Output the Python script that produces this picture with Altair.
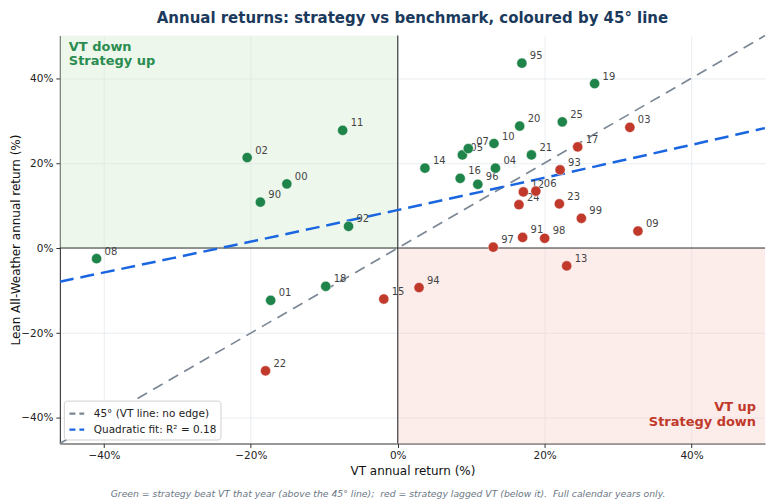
import altair as alt
import pandas as pd

years = ["90", "91", "92", "93", "94", "95", "96", "97", "98", "99",
         "00", "01", "02", "03", "04", "05", "06", "07", "08", "09",
         "10", "11", "12", "13", "14", "15", "16", "17", "18", "19",
         "20", "21", "22", "23", "24", "25"]
vt_ret = [-18.7, 17.0, -6.7, 22.1, 2.9, 16.9, 10.9, 13.0, 20.0, 25.0,
          -15.1, -17.3, -20.5, 31.6, 13.3, 8.8, 18.8, 9.6, -41.0, 32.7,
          13.1, -7.5, 17.1, 23.0, 3.7, -1.9, 8.5, 24.5, -9.8, 26.8,
          16.6, 18.2, -18.0, 22.0, 16.5, 22.4]
strat_ret = [10.8, 2.5, 5.1, 18.4, -9.3, 43.5, 15.0, 0.2, 2.3, 7.0,
             15.1, -12.3, 21.3, 28.4, 18.8, 21.9, 13.4, 23.4, -2.5, 4.0,
             24.6, 27.7, 13.2, -4.2, 18.8, -12.0, 16.4, 23.8, -9.0, 38.7,
             28.7, 21.9, -28.9, 10.4, 10.2, 29.7]

axis_lo, axis_hi = -46, 50
tick_vals = [-40, -20, 0, 20, 40]

line_labels = ["45° (VT line: no edge)", "Quadratic fit: R² = 0.18"]

GREEN = "#1e8449"
RED = "#c0392b"
FONT = "DejaVu Sans"

df = pd.DataFrame({"year": years, "vt": vt_ret, "strat": strat_ret})
df["col"] = [GREEN if s > v else RED for v, s in zip(vt_ret, strat_ret)]

quad = pd.DataFrame({
    "x1": [axis_lo, 0], "x2": [0, axis_hi],
    "y1": [0, axis_lo], "y2": [axis_hi, 0],
    "fill": ["#d4ecd0", "#f8cfcb"],
})
diag = pd.DataFrame({"vt": [axis_lo, axis_hi], "strat": [axis_lo, axis_hi],
                     "series": [line_labels[0]] * 2})

W, H = 707, 409
xs = alt.Scale(domain=[axis_lo, axis_hi], nice=False, zero=False)
ys = alt.Scale(domain=[axis_lo, axis_hi], nice=False, zero=False)
lab = "format(datum.value, 'd') + '%'"

xaxis = alt.Axis(values=tick_vals, labelExpr=lab, title="VT annual return (%)", grid=True)
yaxis = alt.Axis(values=tick_vals, labelExpr=lab, title="Lean All-Weather annual return (%)",
                 grid=True, titleX=-44, titleBaseline="middle")

base_x = alt.X("vt:Q", scale=xs, axis=xaxis)
base_y = alt.Y("strat:Q", scale=ys, axis=yaxis)

quads = alt.Chart(quad).mark_rect(opacity=0.4).encode(
    x=alt.X("x1:Q", scale=xs, axis=xaxis), x2="x2:Q",
    y=alt.Y("y1:Q", scale=ys, axis=yaxis), y2="y2:Q",
    fill=alt.Fill("fill:N", scale=None),
)

zero_v = alt.Chart().mark_rule(color="#333333", strokeWidth=1.1).encode(x=alt.datum(0))
zero_h = alt.Chart().mark_rule(color="#333333", strokeWidth=1.1).encode(y=alt.datum(0))

color_scale = alt.Scale(domain=line_labels, range=["#7b8794", "#1a66e0"])
legend = alt.Legend(title=None, orient="bottom-left", offset=4, fillColor="white",
                    strokeColor="#d0d0d0", cornerRadius=3, padding=4,
                    symbolType="stroke", symbolStrokeWidth=2.2, symbolSize=220,
                    symbolDash=[6, 4], labelFontSize=10.5, labelFont=FONT,
                    labelColor="#222222", rowPadding=1, labelOffset=8)
line_color = alt.Color("series:N", scale=color_scale, legend=legend)

diag_line = alt.Chart(diag).mark_line(strokeWidth=1.7, strokeDash=[11, 7]).encode(
    x=base_x, y=base_y, color=line_color,
)

fit_line = alt.Chart(df).transform_regression(
    "vt", "strat", method="poly", order=2, extent=[axis_lo, axis_hi]
).transform_calculate(series=f"'{line_labels[1]}'").mark_line(
    strokeWidth=2.5, strokeDash=[14, 7], clip=True).encode(
    x=base_x, y=base_y, color=line_color,
)

labels = alt.Chart(df).mark_text(align="left", baseline="middle", dx=8, dy=-7,
                                 fontSize=10, font=FONT, color="#444444").encode(
    x=base_x, y=base_y, text="year:N")

points = alt.Chart(df).mark_circle(size=105, opacity=1, stroke="white", strokeWidth=0.5).encode(
    x=base_x, y=base_y, fill=alt.Fill("col:N", scale=None))

tl_text = alt.Chart().mark_text(align="left", baseline="top", fontSize=13, fontWeight="bold",
                                font=FONT, color="#2a8c50", lineBreak="\n", lineHeight=15).encode(
    x=alt.value(9), y=alt.value(5), text=alt.value("VT down\nStrategy up"))

br_text = alt.Chart().mark_text(align="right", baseline="top", fontSize=13, fontWeight="bold",
                                font=FONT, color=RED, lineBreak="\n", lineHeight=15).encode(
    x=alt.value(W - 9), y=alt.value(366), text=alt.value("VT up\nStrategy down"))

footer = alt.Chart().mark_text(align="center", baseline="middle", fontSize=9.3, fontStyle="italic",
                               font=FONT, color="#6b7785").encode(
    x=alt.value(329), y=alt.value(H + 51),
    text=alt.value("Green = strategy beat VT that year (above the 45° line);\u00a0 red = strategy lagged VT (below it).\u00a0 Full calendar years only."))

chart = alt.layer(quads, zero_v, zero_h, diag_line, fit_line, labels, points,
                  tl_text, br_text, footer).properties(
    width=W, height=H,
    title=alt.TitleParams("Annual returns: strategy vs benchmark, coloured by 45° line",
                          fontSize=15, fontWeight="bold", color="#1b3a5c", font=FONT,
                          anchor="middle", offset=6),
    autosize=alt.AutoSizeParams(type="none"),
    padding={"left": 52, "top": 27, "right": 5, "bottom": 55},
).configure_view(stroke=None).configure_axis(
    gridColor="#e3e8ee", gridWidth=0.8, domain=True, domainColor="#333333", domainWidth=1.1,
    tickColor="#333333", tickSize=4,
    labelFont=FONT, labelFontSize=10.5, labelColor="#222222", labelPadding=3,
    titleFont=FONT, titleFontSize=12, titleFontWeight="normal", titleColor="#111111",
).configure_axisX(titlePadding=5).configure_axisY(titlePadding=3)

chart.save("out.html", embed_options={"renderer": "svg", "actions": False})
